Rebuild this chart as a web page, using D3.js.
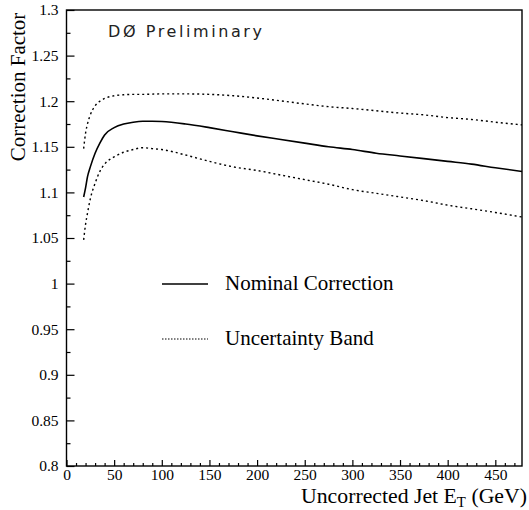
<!DOCTYPE html>
<html>
<head>
<meta charset="utf-8">
<script src="https://cdn.jsdelivr.net/npm/d3@7"></script>
<style>
  body { margin: 0; background: #fff; }
  text { font-family: "Liberation Serif", "Times New Roman", serif; fill: #000; }
</style>
</head>
<body>
<script>
// Data
const etPoints = [18, 20, 22, 25, 30, 35, 40, 50, 60, 70, 80, 90, 100, 125, 150, 175, 200, 225, 250, 275, 300, 325, 350, 375, 400, 425, 450, 478];
const nominal = [1.095, 1.105, 1.117, 1.128, 1.143, 1.154, 1.163, 1.171, 1.175, 1.177, 1.178, 1.178, 1.1777, 1.175, 1.171, 1.1665, 1.162, 1.158, 1.154, 1.150, 1.147, 1.143, 1.140, 1.137, 1.134, 1.131, 1.127, 1.123];
const upperBand = [1.148, 1.165, 1.175, 1.185, 1.195, 1.200, 1.203, 1.206, 1.207, 1.2075, 1.2075, 1.2078, 1.208, 1.208, 1.2075, 1.206, 1.2035, 1.2003, 1.197, 1.194, 1.192, 1.1895, 1.187, 1.185, 1.182, 1.180, 1.177, 1.174];
const lowerBand = [1.048, 1.065, 1.077, 1.093, 1.110, 1.123, 1.131, 1.139, 1.144, 1.147, 1.149, 1.148, 1.147, 1.141, 1.134, 1.128, 1.124, 1.119, 1.114, 1.109, 1.103, 1.099, 1.095, 1.091, 1.086, 1.082, 1.078, 1.073];

const xTicks = [0, 50, 100, 150, 200, 250, 300, 350, 400, 450];
const yTicks = [0.8, 0.85, 0.9, 0.95, 1, 1.05, 1.1, 1.15, 1.2, 1.25, 1.3];
const legendLabels = ["Nominal Correction", "Uncertainty Band"];

const svgWidth = 529;
const svgHeight = 510;
const margin = { top: 10, right: 7, bottom: 44, left: 66.5 };
const chartWidth = svgWidth - margin.left - margin.right;
const chartHeight = svgHeight - margin.top - margin.bottom;

let svg = d3.select("body")
  .append("svg")
  .attr("width", svgWidth)
  .attr("height", svgHeight);

let chartGroup = svg.append("g")
  .attr("transform", `translate(${margin.left}, ${margin.top})`);

let xScale = d3.scaleLinear().domain([0, 478]).range([0, chartWidth]);
let yScale = d3.scaleLinear().domain([0.8, 1.3]).range([chartHeight, 0]);

// minor ticks every 10 GeV and every 0.025
let xMinor = d3.range(0, 478, 10).filter(v => v % 50 !== 0);
let yMinor = d3.range(0.825, 1.3, 0.05);

let leftAxis = d3.axisLeft(yScale).tickValues(yTicks).tickSize(-8).tickPadding(8).tickFormat(d => String(d));
let leftMinor = d3.axisLeft(yScale).tickValues(yMinor).tickSize(-4).tickFormat("");
let bottomAxis = d3.axisBottom(xScale).tickValues(xTicks).tickSize(-6).tickPadding(3).tickFormat(d => String(d));
let bottomMinor = d3.axisBottom(xScale).tickValues(xMinor).tickSize(-3).tickFormat("");

function styleAxis(g) {
  g.select(".domain").remove();
  g.selectAll("line").attr("stroke", "#000").attr("stroke-width", 1.2);
  g.selectAll("text").attr("font-size", 15.5).attr("font-family", "Liberation Serif");
}

chartGroup.append("g").call(leftAxis).call(styleAxis);
chartGroup.append("g").call(leftMinor).call(styleAxis);
chartGroup.append("g").attr("transform", `translate(0, ${chartHeight})`).call(bottomAxis).call(styleAxis);
chartGroup.append("g").attr("transform", `translate(0, ${chartHeight})`).call(bottomMinor).call(styleAxis);

// frame
chartGroup.append("rect")
  .attr("width", chartWidth)
  .attr("height", chartHeight)
  .attr("fill", "none")
  .attr("stroke", "#000")
  .attr("stroke-width", 1.4);

let createLine = d3.line()
  .x((d, i) => xScale(etPoints[i]))
  .y(d => yScale(d))
  .curve(d3.curveMonotoneX);

chartGroup.append("path")
  .attr("d", createLine(upperBand))
  .attr("fill", "none").attr("stroke", "#000").attr("stroke-width", 1.4)
  .attr("stroke-dasharray", "2,3");

chartGroup.append("path")
  .attr("d", createLine(lowerBand))
  .attr("fill", "none").attr("stroke", "#000").attr("stroke-width", 1.4)
  .attr("stroke-dasharray", "2,3");

chartGroup.append("path")
  .attr("d", createLine(nominal))
  .attr("fill", "none").attr("stroke", "#000").attr("stroke-width", 1.6);

// legend
let legend = svg.append("g");
legendLabels.forEach((label, i) => {
  let y = 284 + i * 55;
  legend.append("line")
    .attr("x1", 162).attr("x2", 208).attr("y1", y).attr("y2", y)
    .attr("stroke", "#000")
    .attr("stroke-width", i === 0 ? 1.4 : 1)
    .attr("stroke-dasharray", i === 0 ? null : "1.5,1.5");
  legend.append("text")
    .attr("x", 225).attr("y", y + 6)
    .attr("font-size", 21)
    .text(label);
});

// D0 label
svg.append("text")
  .attr("x", 108).attr("y", 37)
  .attr("font-size", 16)
  .attr("textLength", 154)
  .attr("lengthAdjust", "spacing")
  .style("font-family", "'DejaVu Sans'")
  .style("fill", "#222")
  .text("DØ Preliminary");

// axis titles
svg.append("text")
  .attr("transform", "translate(25, 87) rotate(-90)")
  .attr("text-anchor", "middle")
  .attr("font-size", 21)
  .text("Correction Factor");

let xTitle = svg.append("text")
  .attr("x", 527).attr("y", 503)
  .attr("text-anchor", "end")
  .attr("font-size", 20.5)
  .attr("textLength", 226)
  .attr("lengthAdjust", "spacingAndGlyphs");
xTitle.append("tspan").text("Uncorrected Jet E");
xTitle.append("tspan").attr("font-size", 14).attr("dy", 4).text("T");
xTitle.append("tspan").attr("dy", -4).text(" (GeV)");
</script>
</body>
</html>
